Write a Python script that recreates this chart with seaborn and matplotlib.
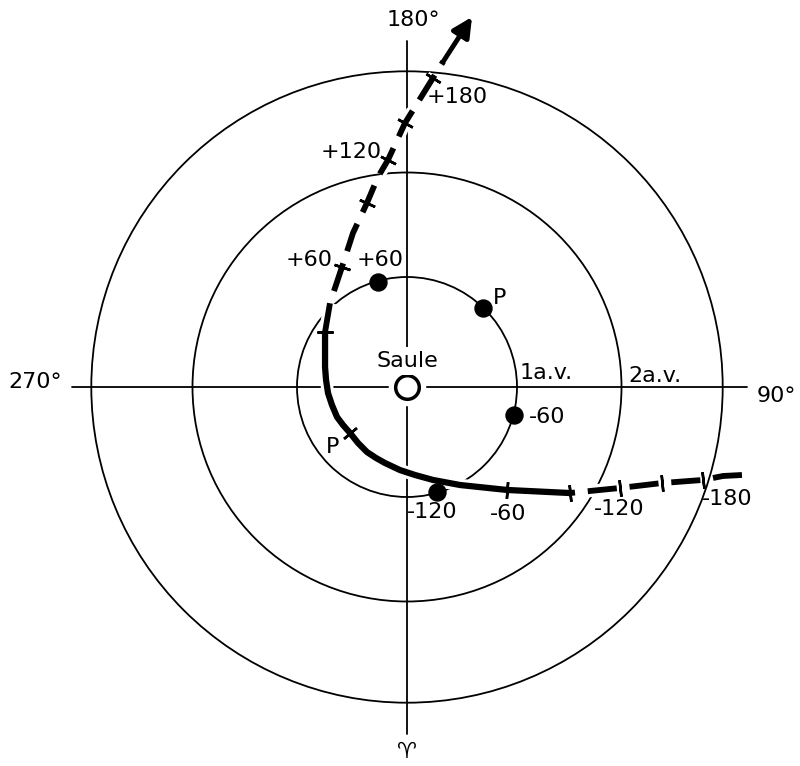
import numpy as np
import seaborn as sns
import matplotlib.pyplot as plt
import matplotlib.patheffects as pe
from matplotlib.patches import Circle

# orbit circles (a.v.)
orbit_radii = [1.0, 1.95, 2.87]

# comet path, from -180 days (lower right) to after +180 (arrow), in a.v.
pre_x = [3.045, 2.873, 2.691, 2.318, 1.936, 1.755, 1.482]
pre_y = [-0.800, -0.809, -0.845, -0.873, -0.918, -0.936, -0.964]
near_x = [1.482, 0.909, 0.482, 0.236, 0.073, -0.064, -0.200, -0.282, -0.364, -0.445, -0.518,
          -0.582, -0.636, -0.682, -0.718, -0.736, -0.745, -0.745, -0.745]
near_y = [-0.964, -0.936, -0.891, -0.845, -0.800, -0.755, -0.691, -0.645, -0.591, -0.509, -0.418,
          -0.345, -0.273, -0.164, -0.055, 0.064, 0.182, 0.336, 0.500]
post_x = [-0.745, -0.700, -0.591, -0.491, -0.364, -0.264, -0.173, -0.018, 0.236, 0.330]
post_y = [0.500, 0.764, 1.091, 1.400, 1.673, 1.909, 2.064, 2.400, 2.809, 2.960]
arrow_tip = (0.591, 3.364)

# day marks on the comet path
tick_x = [-0.745, -0.591, -0.364, -0.173, -0.018, 0.236, -0.518, 0.909, 1.482, 1.936, 2.318, 2.691]
tick_y = [0.500, 1.091, 1.673, 2.064, 2.400, 2.809, -0.418, -0.936, -0.964, -0.918, -0.873, -0.845]
tick_labels = ["", "+60", "", "+120", "", "+180", "P", "-60", "", "-120", "", "-180"]
tick_offsets = [(0, 0), (-33, 7), (0, 0), (-37, 8), (0, 0), (24, -19), (-17, -14),
                (1, -24), (0, 0), (-1, -21), (0, 0), (24, -19)]

# earth positions
earth_x = [-0.264, 0.691, 0.973, 0.273]
earth_y = [0.955, 0.718, -0.255, -0.955]
earth_labels = ["+60", "P", "-60", "-120"]
earth_offsets = [(2, 22), (17, 10), (33, -2), (-5, -20)]

sns.set_style("white")
plt.rcParams["font.family"] = ["DejaVu Sans"]
plt.rcParams["text.color"] = "black"
FS = 16

u = 110.0
cx, cy = 407, 387
fig = plt.figure(figsize=(8, 7.66), dpi=100)
ax = fig.add_axes([0, 0, 1, 1])
ax.set_xlim(-cx / u, (800 - cx) / u)
ax.set_ylim(-(766 - cy) / u, cy / u)
ax.set_aspect("equal")
ax.axis("off")

for r in orbit_radii:
    ax.add_patch(Circle((0, 0), r, fill=False, lw=1.3, color="black"))

ax.plot([-3.05, 3.09], [0, 0], color="black", lw=1.3)
ax.plot([0, 0], [-3.15, 3.15], color="black", lw=1.3)

halo = [pe.Stroke(linewidth=9, foreground="white"), pe.Normal()]

sns.lineplot(x=pre_x, y=pre_y, sort=False, estimator=None, color="black", lw=4.2, ax=ax)
sns.lineplot(x=near_x, y=near_y, sort=False, estimator=None, color="black", lw=4.5, ax=ax)
sns.lineplot(x=post_x, y=post_y, sort=False, estimator=None, color="black", lw=4.2, ax=ax)
lines = ax.lines[-3:]
lines[0].set_dashes([5, 2.2])
lines[2].set_dashes([5, 2.2])
for ln in lines:
    ln.set_path_effects(halo)
    ln.set_solid_capstyle("butt")
    ln.set_dash_capstyle("butt")
    ln.set_solid_joinstyle("round")

ax.annotate("", xy=arrow_tip, xytext=(post_x[-1], post_y[-1]),
            arrowprops=dict(arrowstyle="-|>,head_length=0.9,head_width=0.45",
                            lw=3.5, color="black", mutation_scale=13, shrinkA=0, shrinkB=0))

# ticks perpendicular to the path
path_x = np.array(pre_x + near_x + post_x)
path_y = np.array(pre_y + near_y + post_y)
for x, y, lab, off in zip(tick_x, tick_y, tick_labels, tick_offsets):
    i = np.argmin((path_x - x) ** 2 + (path_y - y) ** 2)
    j0, j1 = max(i - 1, 0), min(i + 1, len(path_x) - 1)
    ang = np.degrees(np.arctan2(path_y[j1] - path_y[j0], path_x[j1] - path_x[j0]))
    ax.plot(x, y, marker=(2, 2, ang), ms=12, mew=1.8, color="black")
    if lab:
        ax.annotate(lab, (x, y), xytext=off, textcoords="offset pixels",
                    ha="center", va="center", fontsize=FS)

sns.scatterplot(x=earth_x, y=earth_y, s=150, color="black", edgecolor="black", ax=ax, zorder=5)
for x, y, lab, off in zip(earth_x, earth_y, earth_labels, earth_offsets):
    ax.annotate(lab, (x, y), xytext=off, textcoords="offset pixels",
                ha="center", va="center", fontsize=FS)

# sun
ax.plot(0, 0, "o", ms=26, color="white", zorder=6)
ax.plot(0, 0, "o", ms=17, mfc="white", mec="black", mew=2.5, zorder=7)
ax.text(0, 0.236, "Saule", ha="center", va="center", fontsize=FS, zorder=7,
        bbox=dict(facecolor="white", edgecolor="none", pad=3))

ax.text(1.264, 0.127, "1a.v.", ha="center", va="center", fontsize=FS)
ax.text(2.255, 0.10, "2a.v.", ha="center", va="center", fontsize=FS)
ax.text(0.055, 3.336, "180°", ha="center", va="center", fontsize=FS)
ax.text(-3.38, 0.05, "270°", ha="center", va="center", fontsize=FS)
ax.text(3.36, -0.08, "90°", ha="center", va="center", fontsize=FS)
ax.text(0, -3.32, "♈", ha="center", va="center", fontsize=FS)

fig.savefig("out.png", dpi=100)
